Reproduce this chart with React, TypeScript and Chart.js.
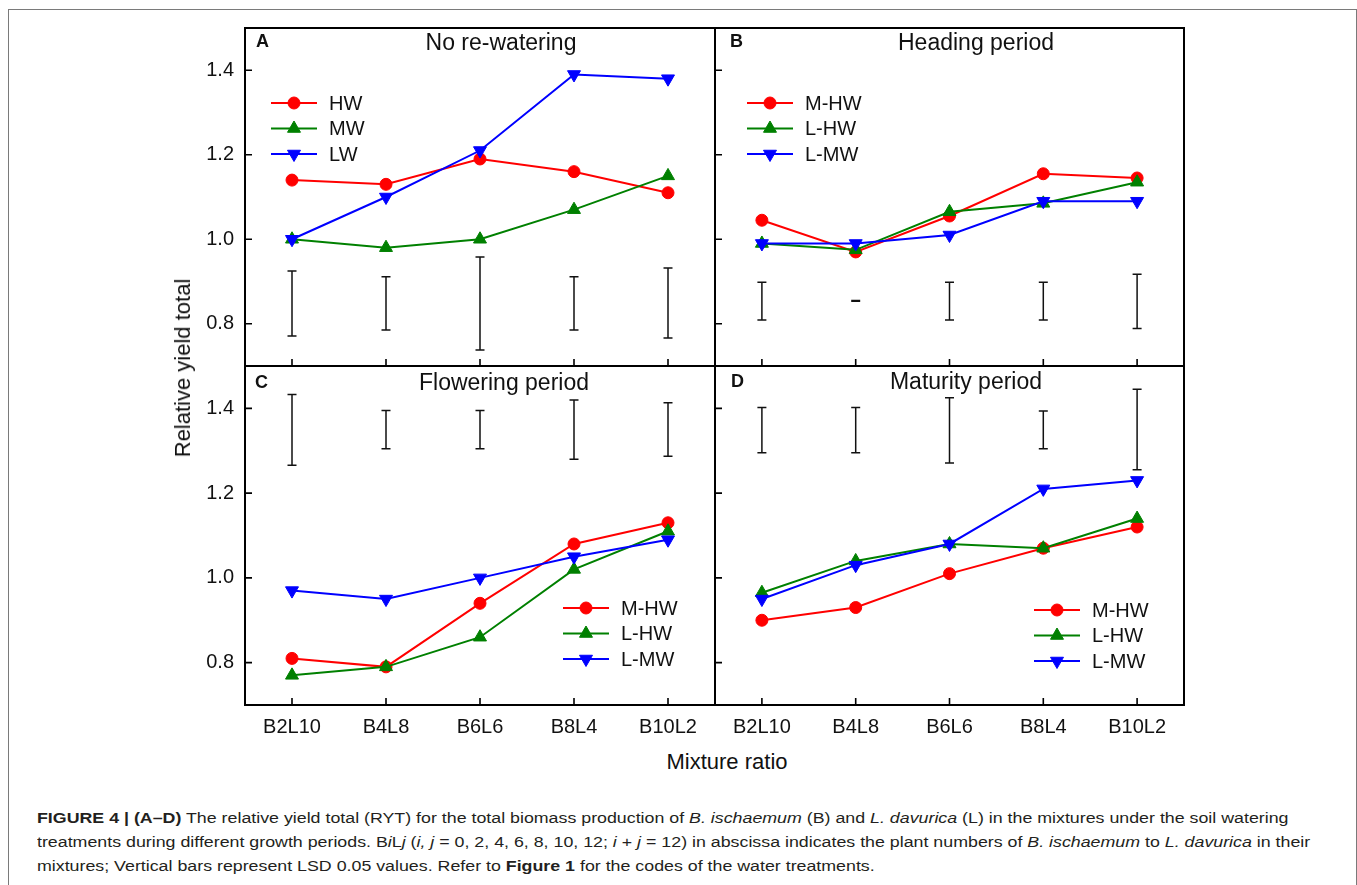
import React, { useEffect, useRef } from 'react';
import { Chart, registerables } from 'chart.js';

Chart.register(...registerables);

const FONT = '"Liberation Sans", Arial, "DejaVu Sans", sans-serif';

// ---------- data ----------
const categories = ['B2L10', 'B4L8', 'B6L6', 'B8L4', 'B10L2'];
const yTickValues = [0.8, 1.0, 1.2, 1.4];
const yMin = 0.7;
const yMax = 1.5;

// Panel A: No re-watering
const aLabels = ['HW', 'MW', 'LW'];
const aHW = [1.14, 1.13, 1.19, 1.16, 1.11];
const aMW = [1.0, 0.98, 1.0, 1.07, 1.15];
const aLW = [1.0, 1.1, 1.21, 1.39, 1.38];
const aLsdTop = [0.925, 0.911, 0.958, 0.911, 0.932];
const aLsdBottom = [0.771, 0.785, 0.738, 0.785, 0.766];

// Panel B: Heading period
const bLabels = ['M-HW', 'L-HW', 'L-MW'];
const bMHW = [1.045, 0.97, 1.055, 1.155, 1.145];
const bLHW = [0.99, 0.975, 1.065, 1.085, 1.135];
const bLMW = [0.99, 0.99, 1.01, 1.09, 1.09];
const bLsdTop = [0.898, 0.855, 0.898, 0.898, 0.917];
const bLsdBottom = [0.809, 0.853, 0.809, 0.809, 0.789];

// Panel C: Flowering period
const cLabels = ['M-HW', 'L-HW', 'L-MW'];
const cMHW = [0.81, 0.79, 0.94, 1.08, 1.13];
const cLHW = [0.77, 0.79, 0.86, 1.02, 1.11];
const cLMW = [0.97, 0.95, 1.0, 1.05, 1.09];
const cLsdTop = [1.433, 1.395, 1.395, 1.42, 1.413];
const cLsdBottom = [1.266, 1.305, 1.305, 1.28, 1.287];

// Panel D: Maturity period
const dLabels = ['M-HW', 'L-HW', 'L-MW'];
const dMHW = [0.9, 0.93, 1.01, 1.07, 1.12];
const dLHW = [0.965, 1.04, 1.08, 1.07, 1.14];
const dLMW = [0.95, 1.03, 1.08, 1.21, 1.23];
const dLsdTop = [1.402, 1.402, 1.425, 1.394, 1.445];
const dLsdBottom = [1.295, 1.295, 1.271, 1.305, 1.255];

// ---------- styles / layout ----------
const seriesStyles = [
  { color: '#FF0000', shape: 'circle', rotation: 0, radius: 6, order: 3 },
  { color: '#008000', shape: 'triangle', rotation: 0, radius: 7.5, order: 2 },
  { color: '#0000FF', shape: 'triangle', rotation: 180, radius: 7.5, order: 1 },
];

const Y_AXIS_W = 60;
const X_AXIS_H = 40;

type PanelCfg = {
  letter: string;
  title: string;
  labels: string[];
  series: number[][];
  lsdTop: number[];
  lsdBottom: number[];
  box: number[];
  showY: boolean;
  showX: boolean;
  titleDX: number;
  titleDY: number;
  letterDX: number;
  letterDY: number;
  legendDX: number;
  legendDY: number;
};

const panels: PanelCfg[] = [
  {
    letter: 'A', title: 'No re-watering', labels: aLabels, series: [aHW, aMW, aLW],
    lsdTop: aLsdTop, lsdBottom: aLsdBottom, box: [245, 28, 715, 366], showY: true, showX: false,
    titleDX: 256, titleDY: 16, letterDX: 11, letterDY: 14, legendDX: 26, legendDY: 75,
  },
  {
    letter: 'B', title: 'Heading period', labels: bLabels, series: [bMHW, bLHW, bLMW],
    lsdTop: bLsdTop, lsdBottom: bLsdBottom, box: [715, 28, 1184, 366], showY: false, showX: false,
    titleDX: 261, titleDY: 16, letterDX: 15, letterDY: 14, legendDX: 32, legendDY: 75,
  },
  {
    letter: 'C', title: 'Flowering period', labels: cLabels, series: [cMHW, cLHW, cLMW],
    lsdTop: cLsdTop, lsdBottom: cLsdBottom, box: [245, 366, 715, 705], showY: true, showX: true,
    titleDX: 259, titleDY: 18, letterDX: 10, letterDY: 17, legendDX: 318, legendDY: 242,
  },
  {
    letter: 'D', title: 'Maturity period', labels: dLabels, series: [dMHW, dLHW, dLMW],
    lsdTop: dLsdTop, lsdBottom: dLsdBottom, box: [715, 366, 1184, 705], showY: false, showX: true,
    titleDX: 251, titleDY: 17, letterDX: 16, letterDY: 16, legendDX: 319, legendDY: 244,
  },
];

function drawMarker(ctx: CanvasRenderingContext2D, st: any, x: number, y: number) {
  ctx.save();
  ctx.fillStyle = st.color;
  ctx.strokeStyle = st.color;
  ctx.lineWidth = 1;
  ctx.beginPath();
  if (st.shape === 'circle') {
    ctx.arc(x, y, st.radius, 0, Math.PI * 2);
  } else {
    let rad = (st.rotation * Math.PI) / 180;
    const r = st.radius;
    ctx.moveTo(x + Math.sin(rad) * r, y - Math.cos(rad) * r);
    rad += (2 * Math.PI) / 3;
    ctx.lineTo(x + Math.sin(rad) * r, y - Math.cos(rad) * r);
    rad += (2 * Math.PI) / 3;
    ctx.lineTo(x + Math.sin(rad) * r, y - Math.cos(rad) * r);
    ctx.closePath();
  }
  ctx.fill();
  ctx.stroke();
  ctx.restore();
}

function makeDecor(p: PanelCfg) {
  return {
    id: 'decor' + p.letter,
    beforeDatasetsDraw(chart: any) {
      const { ctx, chartArea: ca, scales } = chart;
      const x = scales.x;
      const y = scales.y;
      ctx.save();
      // LSD bars
      ctx.strokeStyle = '#111';
      ctx.lineWidth = 1.5;
      p.lsdTop.forEach((t, i) => {
        const px = x.getPixelForValue(i);
        const yt = y.getPixelForValue(t);
        const yb = y.getPixelForValue(p.lsdBottom[i]);
        ctx.beginPath();
        ctx.moveTo(px, yt);
        ctx.lineTo(px, yb);
        ctx.moveTo(px - 4.5, yt);
        ctx.lineTo(px + 4.5, yt);
        ctx.moveTo(px - 4.5, yb);
        ctx.lineTo(px + 4.5, yb);
        ctx.stroke();
      });
      // frame
      ctx.strokeStyle = '#000';
      ctx.lineWidth = 2;
      ctx.strokeRect(ca.left, ca.top, ca.right - ca.left, ca.bottom - ca.top);
      // inward ticks
      ctx.lineWidth = 1.6;
      ctx.beginPath();
      yTickValues.forEach((v) => {
        const py = y.getPixelForValue(v);
        ctx.moveTo(ca.left, py);
        ctx.lineTo(ca.left + 7, py);
      });
      categories.forEach((_, i) => {
        const px = x.getPixelForValue(i);
        ctx.moveTo(px, ca.bottom);
        ctx.lineTo(px, ca.bottom - 7);
      });
      ctx.stroke();
      ctx.restore();
    },
    afterDatasetsDraw(chart: any) {
      const { ctx, chartArea: ca } = chart;
      ctx.save();
      // title
      ctx.fillStyle = '#111';
      ctx.font = `23px ${FONT}`;
      ctx.textAlign = 'center';
      ctx.textBaseline = 'middle';
      ctx.fillText(p.title, ca.left + p.titleDX, ca.top + p.titleDY);
      // letter
      ctx.font = `bold 18px ${FONT}`;
      ctx.textAlign = 'left';
      ctx.fillText(p.letter, ca.left + p.letterDX, ca.top + p.letterDY);
      // legend
      const lx = ca.left + p.legendDX;
      chart.data.datasets.forEach((ds: any, i: number) => {
        const st = seriesStyles[i];
        const yy = ca.top + p.legendDY + i * 25.5;
        ctx.strokeStyle = st.color;
        ctx.lineWidth = 2;
        ctx.beginPath();
        ctx.moveTo(lx, yy);
        ctx.lineTo(lx + 46, yy);
        ctx.stroke();
        drawMarker(ctx, st, lx + 23, yy);
        ctx.fillStyle = '#111';
        ctx.font = `20px ${FONT}`;
        ctx.textAlign = 'left';
        ctx.textBaseline = 'middle';
        ctx.fillText(ds.label, lx + 58, yy + 1);
      });
      ctx.restore();
    },
  };
}

function zeroPadding(s: any) {
  s.paddingTop = 0;
  s.paddingBottom = 0;
  s.paddingLeft = 0;
  s.paddingRight = 0;
}

function Panel({ p }: { p: PanelCfg }) {
  const ref = useRef<HTMLCanvasElement>(null);
  const [L, T, R, B] = p.box;
  const padL = p.showY ? Y_AXIS_W : 2;
  const padB = p.showX ? X_AXIS_H : 2;
  const padT = 2;
  const padR = 2;
  const w = R - L + padL + padR;
  const h = B - T + padT + padB;

  useEffect(() => {
    if (!ref.current) return;
    const chart = new Chart(ref.current, {
      type: 'line',
      data: {
        labels: categories,
        datasets: p.series.map((vals, i) => {
          const st = seriesStyles[i];
          return {
            label: p.labels[i],
            data: vals,
            borderColor: st.color,
            backgroundColor: st.color,
            borderWidth: 2,
            pointStyle: st.shape,
            pointRotation: st.rotation,
            pointRadius: st.radius,
            pointBackgroundColor: st.color,
            pointBorderColor: st.color,
            pointBorderWidth: 1,
            tension: 0,
            fill: false,
            order: st.order,
          };
        }),
      },
      options: {
        animation: false,
        responsive: false,
        devicePixelRatio: 1,
        layout: {
          autoPadding: false,
          padding: { left: p.showY ? 0 : 2, right: padR, top: padT, bottom: p.showX ? 0 : 2 },
        },
        plugins: { legend: { display: false }, title: { display: false }, tooltip: { enabled: false } },
        events: [],
        scales: {
          x: {
            type: 'category',
            display: p.showX,
            offset: true,
            grid: { display: false, drawTicks: false },
            border: { display: false },
            ticks: { color: '#111', font: { size: 20, family: FONT }, padding: 10, maxRotation: 0, autoSkip: false },
            afterFit: (s: any) => {
              if (p.showX) s.height = X_AXIS_H;
              zeroPadding(s);
            },
          },
          y: {
            type: 'linear',
            display: p.showY,
            min: yMin,
            max: yMax,
            grid: { display: false, drawTicks: false },
            border: { display: false },
            ticks: {
              color: '#111',
              font: { size: 20, family: FONT },
              padding: 11,
              callback: (v: any) => Number(v).toFixed(1),
            },
            afterBuildTicks: (s: any) => { s.ticks = yTickValues.map((v) => ({ value: v })); },
            afterFit: (s: any) => {
              if (p.showY) s.width = Y_AXIS_W;
              zeroPadding(s);
            },
          },
        },
      },
      plugins: [makeDecor(p)],
    } as any);
    return () => chart.destroy();
  }, []);

  return (
    <canvas
      ref={ref}
      width={w}
      height={h}
      style={{ position: 'absolute', left: L - padL, top: T - padT, width: w, height: h }}
    />
  );
}

export default function App() {
  return (
    <div
      style={{
        position: 'absolute', left: 0, top: 0, width: 1357, height: 885,
        overflow: 'hidden', background: '#fff', fontFamily: FONT, color: '#111',
      }}
    >
      <div
        style={{
          position: 'absolute', left: 8, top: 9, width: 1347, height: 950,
          border: '1px solid #7a7a7a', boxSizing: 'content-box',
        }}
      />
      {panels.map((p) => (
        <Panel key={p.letter} p={p} />
      ))}
      <div
        style={{
          position: 'absolute', left: 183, top: 368, transform: 'translate(-50%, -50%) rotate(-90deg)',
          fontSize: 22, whiteSpace: 'nowrap',
        }}
      >
        Relative yield total
      </div>
      <div
        style={{
          position: 'absolute', left: 727, top: 762, transform: 'translate(-50%, -50%)',
          fontSize: 22, whiteSpace: 'nowrap',
        }}
      >
        Mixture ratio
      </div>
      <div
        style={{
          position: 'absolute', left: 37, top: 806, fontSize: 15.5, lineHeight: '24px',
          whiteSpace: 'nowrap', color: '#231f20', transform: 'scaleX(1.148)', transformOrigin: '0 0',
        }}
      >
        <b>FIGURE 4 | (A–D)</b> The relative yield total (RYT) for the total biomass production of{' '}
        <i>B. ischaemum</i> (B) and <i>L. davurica</i> (L) in the mixtures under the soil watering
        <br />
        treatments during different growth periods. B<i>i</i>L<i>j</i> (<i>i, j</i> = 0, 2, 4, 6, 8, 10, 12;{' '}
        <i>i</i> + <i>j</i> = 12) in abscissa indicates the plant numbers of <i>B. ischaemum</i> to{' '}
        <i>L. davurica</i> in their
        <br />
        mixtures; Vertical bars represent LSD 0.05 values. Refer to <b>Figure 1</b> for the codes of the
        water treatments.
      </div>
    </div>
  );
}
